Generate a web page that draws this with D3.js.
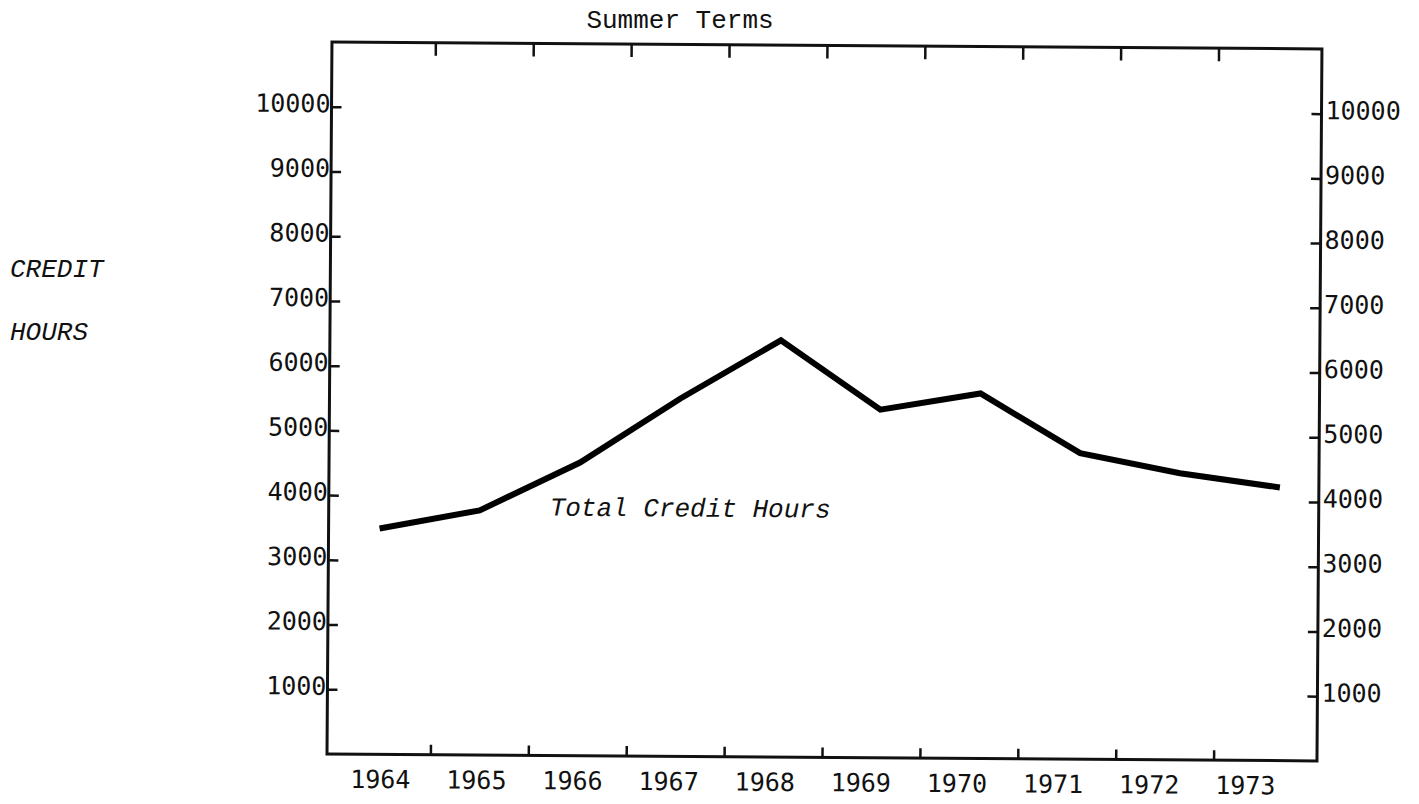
<!DOCTYPE html>
<html>
<head>
<meta charset="utf-8">
<script src="https://cdn.jsdelivr.net/npm/d3@7"></script>
<style>
  body { margin: 0; background: #fff; }
  svg { display: block; }
  .num { font-family: "DejaVu Sans Mono", monospace; font-size: 25px; fill: #111; }
  .type { font-family: "Liberation Mono", "Courier New", monospace; font-size: 26px; fill: #111; }
</style>
</head>
<body>
<svg id="chart" width="1419" height="804"></svg>
<script>
const years = [1964, 1965, 1966, 1967, 1968, 1969, 1970, 1971, 1972, 1973];
const creditHours = [3490, 3780, 4530, 5530, 6440, 5380, 5640, 4730, 4430, 4220];
const yTicks = [1000, 2000, 3000, 4000, 5000, 6000, 7000, 8000, 9000, 10000];

const svg = d3.select('#chart');
const frame = { left: 327, right: 1317, top: 42, bottom: 754 };

// the scanned page is tilted a little clockwise
const g = svg.append('g').attr('transform', `rotate(0.4, ${frame.left}, ${frame.bottom})`);

const y = d3.scaleLinear().domain([0, 11000]).range([frame.bottom, frame.top]);
const xBand = d3.scaleBand().domain(years).range([333, 1312]).padding(0);
const xLabel = d3.scalePoint().domain(years).range([380, 1245]);
const xLine = d3.scaleLinear().domain([1964, 1973]).range([378, 1278]);

// frame
g.append('rect')
    .attr('x', frame.left).attr('y', frame.top)
    .attr('width', frame.right - frame.left).attr('height', frame.bottom - frame.top)
    .attr('fill', 'none').attr('stroke', '#111').attr('stroke-width', 3);

// year tick marks, top and bottom, pointing inward
const inner = years.slice(1);
g.selectAll('.tickTop').data(inner).join('line')
    .attr('x1', d => xBand(d)).attr('x2', d => xBand(d))
    .attr('y1', frame.top).attr('y2', frame.top + 13)
    .attr('stroke', '#111').attr('stroke-width', 2.5);
g.selectAll('.tickBottom').data(inner).join('line')
    .attr('x1', d => xBand(d)).attr('x2', d => xBand(d))
    .attr('y1', frame.bottom).attr('y2', frame.bottom - 10)
    .attr('stroke', '#111').attr('stroke-width', 2.5);

// year labels
const xAxis = g.append('g')
    .attr('transform', `translate(0,${frame.bottom})`)
    .call(d3.axisBottom(xLabel).tickSize(0).tickPadding(16));
xAxis.select('.domain').remove();
xAxis.selectAll('text').attr('class', 'num');
xAxis.attr('font-size', null).attr('font-family', null);

// left value axis
const yLeft = g.append('g')
    .attr('transform', `translate(${frame.left},0)`)
    .call(d3.axisRight(y).tickValues(yTicks).tickSize(10).tickFormat(d3.format('d')));
yLeft.select('.domain').remove();
yLeft.attr('font-size', null).attr('font-family', null);
yLeft.selectAll('line').attr('stroke', '#111').attr('stroke-width', 2.5);
yLeft.selectAll('text').attr('class', 'num')
    .attr('text-anchor', 'end').attr('x', -1).attr('dy', '0.2em');

// right value axis
const yRight = g.append('g')
    .attr('transform', `translate(${frame.right},0)`)
    .call(d3.axisLeft(y).tickValues(yTicks).tickSize(10).tickFormat(d3.format('d')));
yRight.select('.domain').remove();
yRight.attr('font-size', null).attr('font-family', null);
yRight.selectAll('line').attr('stroke', '#111').attr('stroke-width', 2.5);
yRight.selectAll('text').attr('class', 'num')
    .attr('text-anchor', 'start').attr('x', 4).attr('dy', '0.2em');

// the series
const line = d3.line()
    .x((d, i) => xLine(years[i]))
    .y(d => y(d));
g.append('path')
    .datum(creditHours)
    .attr('d', line)
    .attr('fill', 'none')
    .attr('stroke', '#000')
    .attr('stroke-width', 6)
    .attr('stroke-linejoin', 'miter');

g.append('text').attr('class', 'type')
    .attr('x', 548).attr('y', 514)
    .attr('font-style', 'italic')
    .attr('font-size', '26.5px')
    .text('Total Credit Hours');

svg.append('text').attr('class', 'type')
    .attr('x', 680).attr('y', 28)
    .attr('text-anchor', 'middle')
    .text('Summer Terms');

svg.append('text').attr('class', 'type')
    .attr('x', 10).attr('y', 277)
    .attr('font-style', 'italic')
    .attr('font-size', '25.5px')
    .text('CREDIT');
svg.append('text').attr('class', 'type')
    .attr('x', 10).attr('y', 340)
    .attr('font-style', 'italic')
    .attr('font-size', '25.5px')
    .text('HOURS');
</script>
</body>
</html>
